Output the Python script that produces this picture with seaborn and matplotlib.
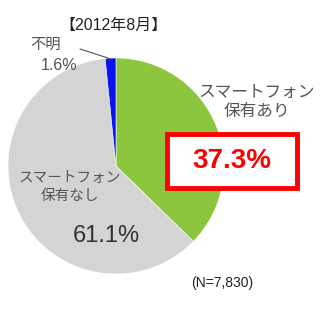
import matplotlib
matplotlib.use("Agg")
import matplotlib.pyplot as plt
import seaborn as sns
from matplotlib.patches import Rectangle

sns.set_theme(style="white")
plt.rcParams['font.family'] = ['Liberation Sans', 'Noto Sans CJK JP', 'DejaVu Sans']

categories = ["スマートフォン\n保有あり", "スマートフォン\n保有なし", "不明"]
values = [37.3, 61.1, 1.6]
value_labels = ["37.3%", "61.1%", "1.6%"]
colors = ["#8cc63e", "#d4d4d4", "#0a14f0"]

fig = plt.figure(figsize=(3.2, 3.2), dpi=100)
ax = fig.add_axes([0, 0, 1, 1])
ax.set_xlim(0, 320)
ax.set_ylim(0, 320)
ax.set_aspect("equal")
ax.axis("off")

H = 320
ax.pie(values, colors=colors, startangle=90, counterclock=False,
       center=(116, H - 166), radius=108,
       wedgeprops=dict(edgecolor="white", linewidth=0.4))
ax.set_xlim(0, 320)
ax.set_ylim(0, 320)

ax.text(114, H - 25, "【2012年8月】", ha="center", va="center", fontsize=11.5, color="#222222")

# 不明
ax.text(46, H - 45, categories[2], ha="center", va="center", fontsize=11, color="#555555")
ax.text(59, H - 66, value_labels[2], ha="center", va="center", fontsize=11.5, color="#555555")
ax.plot([80, 111], [H - 49, H - 59], color="#555555", linewidth=0.8)

# 保有あり
ax.text(257, H - 102, categories[0], ha="center", va="center", fontsize=12,
        color="#555555", linespacing=1.25)
ax.add_patch(Rectangle((167, H - 188), 130, 54, facecolor="white",
                       edgecolor="#ff0000", linewidth=3.5, zorder=5))
ax.text(232, H - 161, value_labels[0], ha="center", va="center", fontsize=20,
        fontweight="bold", color="#ff0000", zorder=6)

# 保有なし
ax.text(70, H - 187, categories[1], ha="center", va="center", fontsize=10.5,
        color="#555555", linespacing=1.3)
ax.text(106, H - 236, value_labels[1], ha="center", va="center", fontsize=17,
        color="#333333")

ax.text(222, H - 283, "(N=7,830)", ha="center", va="center", fontsize=10, color="#222222")

fig.savefig("out.png", dpi=100)
